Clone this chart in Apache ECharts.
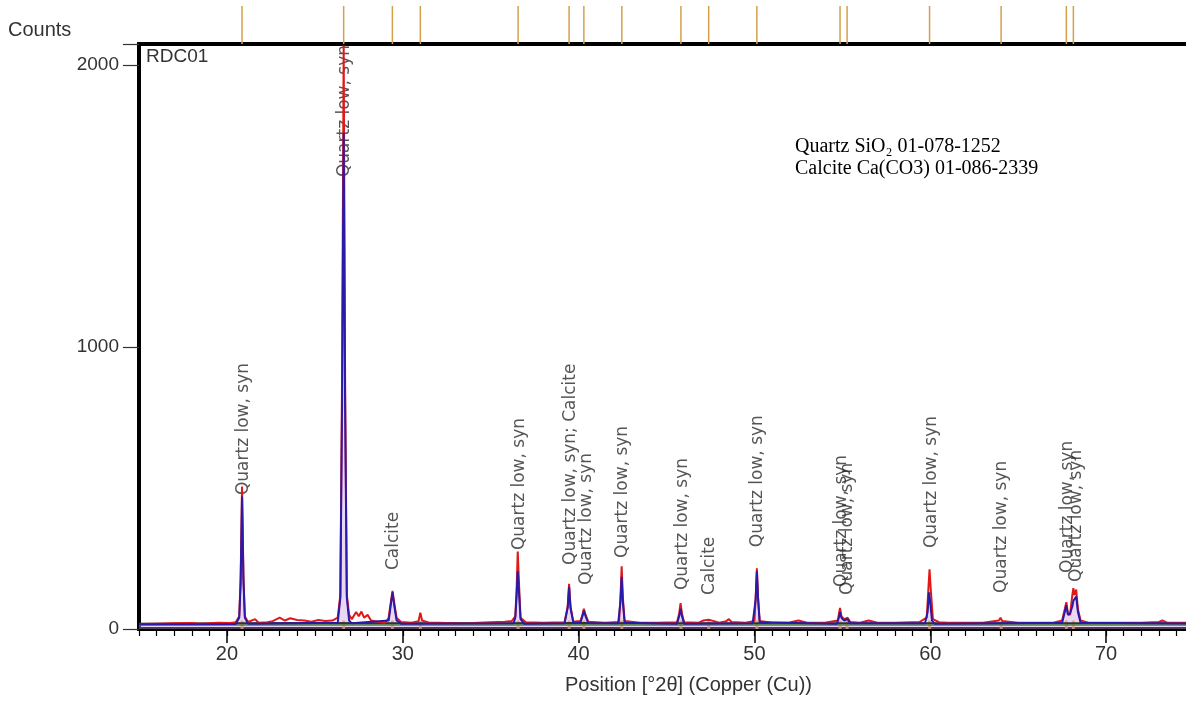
<!DOCTYPE html>
<html>
<head>
<meta charset="utf-8">
<script src="https://cdn.jsdelivr.net/npm/echarts@6/dist/echarts.min.js"></script>
<style>
html,body{margin:0;padding:0;background:#fff;}
#chart{width:1186px;height:707px;}
</style>
</head>
<body>
<div id="chart"></div>
<script>
// ---- data (2θ, counts) ----
const observed = [
[15.0,18],[16.0,19],[17.0,20],[18.0,21],[18.5,19],[19.0,20],[19.5,22],[20.2,21],[20.5,24],[20.7,45],[20.78,180],[20.86,505],[20.94,190],[21.02,45],[21.2,25],[21.6,35],[21.8,22],[22.3,24],[22.6,28],[23.0,40],[23.3,30],[23.6,38],[24.0,32],[24.4,30],[24.8,26],[25.2,32],[25.6,28],[26.0,30],[26.3,40],[26.45,120],[26.55,900],[26.64,2070],[26.72,900],[26.82,120],[26.95,50],[27.1,35],[27.35,60],[27.5,45],[27.65,62],[27.8,40],[28.0,50],[28.2,30],[28.6,25],[29.0,22],[29.2,40],[29.33,100],[29.42,135],[29.5,100],[29.65,40],[29.9,25],[30.5,22],[30.9,28],[31.0,58],[31.1,30],[31.5,22],[32.0,22],[33.0,20],[34.0,21],[35.0,24],[35.8,26],[36.2,28],[36.4,45],[36.48,150],[36.54,275],[36.62,150],[36.7,40],[37.0,24],[38.0,22],[39.2,24],[39.38,80],[39.46,160],[39.54,80],[39.7,26],[40.1,28],[40.22,50],[40.3,72],[40.4,50],[40.55,26],[41.5,22],[42.3,25],[42.38,110],[42.45,222],[42.52,110],[42.62,28],[43.5,22],[44.5,22],[45.6,24],[45.72,55],[45.8,92],[45.88,55],[46.0,24],[46.8,22],[47.1,30],[47.4,33],[47.7,28],[48.0,22],[48.4,28],[48.55,35],[48.7,25],[49.5,22],[50.0,28],[50.07,110],[50.14,215],[50.21,110],[50.3,28],[51.0,22],[52.0,23],[52.5,30],[53.0,22],[54.0,22],[54.75,30],[54.82,60],[54.87,75],[54.95,45],[55.1,35],[55.3,40],[55.45,25],[56.0,22],[56.5,30],[57.0,22],[58.0,22],[59.4,25],[59.8,40],[59.9,150],[59.96,212],[60.03,140],[60.15,35],[60.5,24],[61.0,22],[62.0,22],[63.0,22],[63.9,30],[64.0,40],[64.1,28],[64.6,25],[65.0,22],[66.0,22],[67.0,22],[67.5,30],[67.65,70],[67.74,95],[67.83,55],[67.95,50],[68.08,120],[68.14,145],[68.2,120],[68.3,140],[68.4,70],[68.55,30],[69.0,22],[70.0,22],[71.0,22],[72.0,22],[73.0,25],[73.2,30],[73.5,22],[74.0,22],[75.0,22]
];
const calculated = [
[15.0,17],[20.5,18],[20.7,40],[20.78,160],[20.86,470],[20.94,170],[21.02,40],[21.2,19],[26.3,22],[26.45,110],[26.55,800],[26.64,1760],[26.72,800],[26.82,110],[26.95,30],[27.1,20],[29.2,30],[29.33,90],[29.42,130],[29.5,90],[29.65,30],[29.9,19],[36.3,20],[36.4,40],[36.48,120],[36.54,205],[36.62,120],[36.7,35],[36.9,19],[39.2,20],[39.38,75],[39.46,150],[39.54,75],[39.7,22],[40.1,22],[40.22,45],[40.3,65],[40.4,45],[40.55,21],[42.25,20],[42.38,95],[42.45,185],[42.52,95],[42.62,22],[45.6,19],[45.72,45],[45.8,72],[45.88,45],[46.0,19],[49.9,20],[50.07,105],[50.14,205],[50.21,105],[50.3,24],[54.7,19],[54.82,45],[54.87,60],[54.95,40],[55.1,30],[55.3,35],[55.45,20],[59.7,20],[59.85,60],[59.93,130],[59.99,100],[60.1,30],[60.25,19],[67.5,22],[67.65,60],[67.74,85],[67.83,50],[67.95,55],[68.08,80],[68.14,100],[68.22,95],[68.3,115],[68.4,60],[68.55,22],[75.0,19]
];
const background = [[15.0,19],[20.0,20],[25.0,21],[30.0,20],[35.0,20],[40.0,21],[45.0,20],[50.0,20],[55.0,20],[60.0,20],[65.0,20],[70.0,20],[75.0,20]];
const baselineGreen = [[15.0,14],[75.0,14]];
// reference pattern stick positions (°2θ)
const stickPositions = [20.86,26.64,29.41,31.0,36.56,39.46,40.3,42.46,45.82,47.4,50.14,54.87,55.27,59.96,64.03,67.74,68.14];
// peak labels
const labelPositions = [20.95,26.7,29.5,36.62,39.54,40.47,42.5,45.92,47.45,50.16,54.94,55.28,60.08,64.08,67.82,68.33];
const labelHeights = [475,1603,209,280,227,156,252,138,121,290,149,121,287,128,199,167];
const labelTexts = ["Quartz low, syn","Quartz low, syn","Calcite","Quartz low, syn","Quartz low, syn; Calcite","Quartz low, syn","Quartz low, syn","Quartz low, syn","Calcite","Quartz low, syn","Quartz low, syn","Quartz low, syn","Quartz low, syn","Quartz low, syn","Quartz low, syn","Quartz low, syn"];
const xTickLabels = [20,30,40,50,60,70];
const yTickLabels = [0,1000,2000];

const labelData = labelPositions.map((p,i)=>({value:[p,labelHeights[i]], name:labelTexts[i]}));
const stickTop = stickPositions.map(p=>[p,1]);
const stickBottom = stickPositions.map(p=>[p,30]);

const chart = echarts.init(document.getElementById('chart'), null, {renderer:'canvas'});
const axisFont = 'Liberation Sans';
chart.setOption({
  backgroundColor:'#ffffff',
  animation:false,
  grid:[
    {left:139, width:1055, top:44, bottom:78, show:true, borderColor:'#000', borderWidth:4, containLabel:false, outerBoundsMode:'none'},
    {left:139, width:1055, top:6, height:38, show:false, outerBoundsMode:'none'}
  ],
  xAxis:[
    {gridIndex:0, type:'value', min:15, max:75, position:'bottom', axisLine:{show:false}, splitLine:{show:false},
     axisTick:{show:true, inside:false, length:14, customValues:xTickLabels, lineStyle:{color:'#000',width:1.5}},
     axisLabel:{show:true, customValues:xTickLabels, margin:15, fontSize:20, color:'#333', fontFamily:axisFont}},
    {gridIndex:0, type:'value', min:15, max:75, interval:1, position:'bottom', offset:0, axisLine:{show:false}, splitLine:{show:false},
     axisTick:{show:true, length:7, lineStyle:{color:'#000',width:1.2}}, axisLabel:{show:false}},
    {gridIndex:1, type:'value', min:15, max:75, show:false}
  ],
  yAxis:[
    {gridIndex:0, type:'value', min:0, max:2075, interval:1000, axisLine:{show:false}, splitLine:{show:false},
     axisTick:{show:true, length:16, lineStyle:{color:'#333',width:1.2}},
     axisLabel:{margin:20, fontSize:19, color:'#333', fontFamily:axisFont,
       formatter:v=> yTickLabels.indexOf(v)>=0 ? String(v) : ''}},
    {gridIndex:1, type:'value', min:0, max:1, show:false}
  ],
  series:[
    {type:'line', xAxisIndex:0, yAxisIndex:0, data:baselineGreen, symbol:'none', lineStyle:{color:'#3a8a3a',width:1.5}, silent:true},
    {type:'line', xAxisIndex:0, yAxisIndex:0, data:background, symbol:'none', lineStyle:{color:'#333',width:2}, silent:true},
    {type:'bar', xAxisIndex:0, yAxisIndex:0, data:stickBottom, barWidth:3, itemStyle:{color:'rgba(230,160,60,0.8)'}, silent:true},
    {type:'line', xAxisIndex:0, yAxisIndex:0, data:observed, symbol:'none', lineStyle:{color:'#e01818',width:2}, silent:true},
    {type:'line', xAxisIndex:0, yAxisIndex:0, data:calculated, symbol:'none', lineStyle:{color:'#2a1aa8',width:2},
     areaStyle:{color:'rgba(200,150,225,0.55)'}, silent:true},
    {type:'scatter', xAxisIndex:0, yAxisIndex:0, data:labelData, symbolSize:0, silent:true,
     label:{show:true, position:'inside', rotate:90, align:'left', verticalAlign:'middle',
       formatter:p=>p.name, fontSize:17, color:'#2a2a2a', fontFamily:'DejaVu Sans'}},
    {type:'bar', xAxisIndex:2, yAxisIndex:1, data:stickTop, barWidth:1.5, itemStyle:{color:'#d4a04c'}, silent:true}
  ],
  graphic:[
    {type:'text', left:8, top:20, style:{text:'Counts', font:'20px "Liberation Sans"', fill:'#333'}},
    {type:'text', left:146, top:47, style:{text:'RDC01', font:'19px "Liberation Sans"', fill:'#333'}},
    {type:'text', left:795, top:137, style:{text:'Quartz SiO\u2082 01-078-1252', font:'20px "Liberation Serif"', fill:'#000'}},
    {type:'text', left:795, top:159, style:{text:'Calcite Ca(CO3) 01-086-2339', font:'20px "Liberation Serif"', fill:'#000'}},
    {type:'text', left:565, top:675, style:{text:'Position [°2θ] (Copper (Cu))', font:'20px "Liberation Sans"', fill:'#333'}}
  ]
});
</script>
</body>
</html>
